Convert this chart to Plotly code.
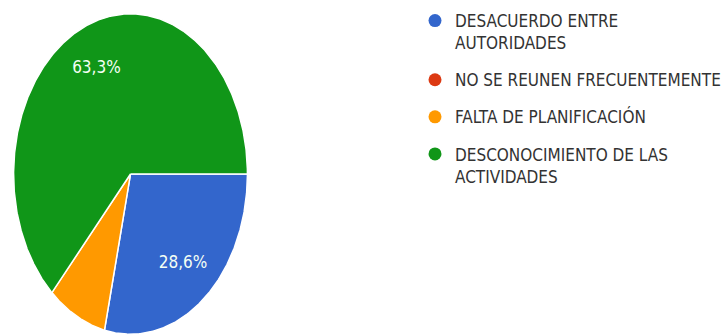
import numpy as np
import plotly.graph_objects as go

# Survey answers (counts) and their labels
categories = [
    "DESACUERDO ENTRE<br>AUTORIDADES",
    "NO SE REUNEN FRECUENTEMENTE",
    "FALTA DE PLANIFICACIÓN",
    "DESCONOCIMIENTO DE LAS<br>ACTIVIDADES",
]
counts = [14, 0, 4, 31]
colors = ["#3366cc", "#dc3912", "#ff9900", "#109618"]

FONT = "DejaVu Sans Condensed, Liberation Sans Narrow, sans-serif"
START_DEG = 90.0      # first slice begins at 3 o'clock, clockwise
LABEL_R = 0.72        # radial position of the percentage labels
MIN_LABEL_PCT = 10.0  # small slices get no label

total = float(sum(counts))
fractions = [c / total for c in counts]

fig = go.Figure()

label_x, label_y, label_t = [], [], []
cum = 0.0
for name, frac, col in zip(categories, fractions, colors):
    a0 = START_DEG + cum * 360.0
    a1 = a0 + frac * 360.0
    cum += frac
    if frac <= 0:
        continue
    theta = np.radians(np.linspace(a0, a1, max(int(frac * 720), 2)))
    xs = np.concatenate([[0.0], np.sin(theta), [0.0]])
    ys = np.concatenate([[0.0], np.cos(theta), [0.0]])
    fig.add_trace(go.Scatter(
        x=xs, y=ys, mode="lines", fill="toself", fillcolor=col,
        line=dict(color="white", width=1.5), hoverinfo="skip",
        showlegend=False,
    ))
    pct = frac * 100.0
    if pct >= MIN_LABEL_PCT:
        mid = np.radians((a0 + a1) / 2.0)
        label_x.append(LABEL_R * np.sin(mid))
        label_y.append(LABEL_R * np.cos(mid))
        label_t.append(f"{pct:.1f}%".replace(".", ","))

fig.add_trace(go.Scatter(
    x=label_x, y=label_y, mode="text", text=label_t,
    textfont=dict(family=FONT, size=17, color="#f4fff4"),
    hoverinfo="skip", showlegend=False,
))

# Legend entries with round swatches
for i, (name, col) in enumerate(zip(categories, colors)):
    fig.add_trace(go.Scatter(
        x=[None], y=[None], mode="markers", name=name,
        marker=dict(color=col, size=13, symbol="circle"),
        legendgroup=f"g{i}", showlegend=True,
    ))

W, H = 726, 336
fig.update_layout(
    width=W, height=H,
    margin=dict(l=0, r=0, t=0, b=0),
    paper_bgcolor="white", plot_bgcolor="white",
    xaxis=dict(range=[-1.005, 1.005], domain=[13 / W, 248 / W], visible=False,
               fixedrange=True),
    yaxis=dict(range=[-1.005, 1.005], domain=[1 / H, 323 / H], visible=False,
               fixedrange=True),
    legend=dict(
        x=415 / W, xanchor="left", y=1 - 3 / H, yanchor="top",
        font=dict(family=FONT, size=17, color="#333333"),
        valign="top", tracegroupgap=12, bgcolor="rgba(0,0,0,0)",
        itemclick=False, itemdoubleclick=False,
    ),
    showlegend=True,
)

fig.write_html("out.html")
